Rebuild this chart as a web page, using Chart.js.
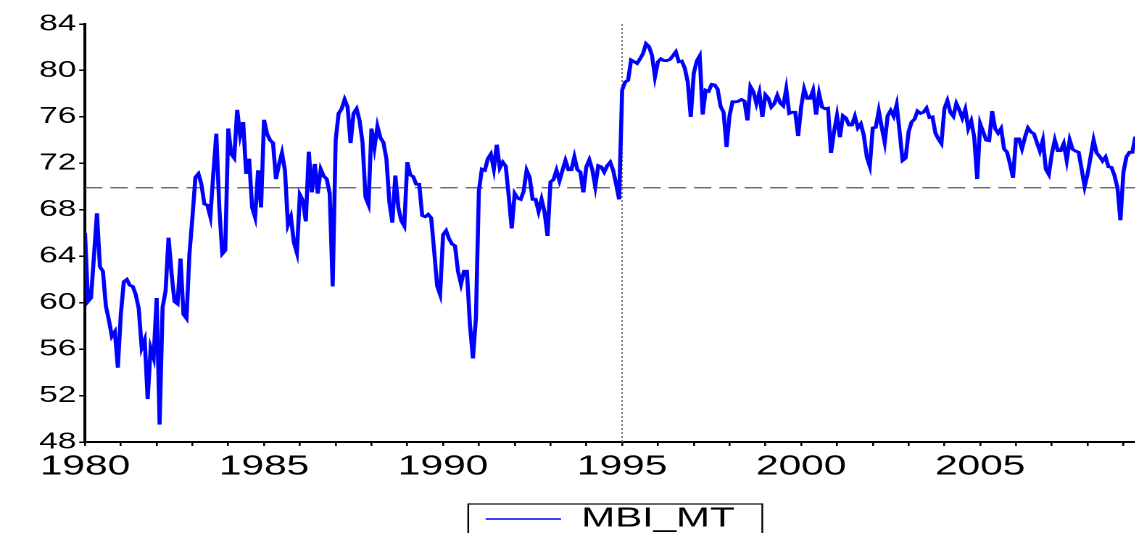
<!DOCTYPE html>
<html>
<head>
<meta charset="utf-8">
<script src="https://cdn.jsdelivr.net/npm/chart.js@4.4.1/dist/chart.umd.min.js"></script>
<style>
  html, body { margin: 0; padding: 0; background: #fff; overflow: hidden; width: 1135px; height: 533px; }
  #wrap { position: absolute; left: 0; top: 0; transform-origin: 0 0; }
</style>
</head>
<body>
<div id="wrap"><canvas id="chart"></canvas></div>
<script>
// Monthly series MBI_MT, 1980M01 onward
const startYear = 1980;
const mbiMt = [
  66.0, 60.1, 60.4, 64.0, 67.7, 63.1, 62.7, 59.7, 58.5, 57.1, 57.5, 54.4,
  59.0, 61.8, 62.0, 61.5, 61.4, 60.7, 59.5, 56.1, 56.8, 51.7, 56.1, 55.25,
  60.4, 49.5, 59.6, 61.0, 65.6, 62.5, 60.1, 59.9, 63.8, 59.0, 58.65, 64.2,
  67.35, 70.8, 71.1, 70.2, 68.5, 68.4, 67.4, 71.1, 74.55, 68.2, 64.2, 64.5,
  75.0, 72.8, 72.45, 76.6, 74.4, 75.55, 71.1, 72.4, 68.2, 67.35, 71.4, 68.2,
  75.75, 74.55, 74.0, 73.75, 70.65, 71.9, 72.9, 71.4, 66.7, 67.4, 65.2, 64.3,
  69.3, 68.8, 67.0, 73.0, 69.5, 71.95, 69.4, 71.5, 70.9, 70.65, 69.4, 61.4,
  74.0, 76.3, 76.7, 77.5, 76.85, 73.75, 76.3, 76.7, 75.7, 73.8, 69.1, 68.45,
  75.0, 73.35, 75.2, 74.2, 73.8, 72.4, 68.65, 66.9, 70.95, 68.2, 67.05, 66.6,
  72.1, 71.0, 70.85, 70.2, 70.2, 67.5, 67.4, 67.6, 67.3, 64.5, 61.45, 60.7,
  65.85, 66.2, 65.5, 65.05, 64.9, 62.7, 61.6, 62.7, 62.7, 58.1, 55.2, 58.7,
  69.65, 71.5, 71.4, 72.4, 72.8, 71.5, 73.6, 71.6, 72.1, 71.75, 69.2, 66.4,
  69.4, 69.0, 68.9, 69.6, 71.4, 70.8, 68.9, 68.9, 67.85, 68.9, 67.8, 65.75,
  70.4, 70.6, 71.4, 70.5, 71.4, 72.25, 71.45, 71.45, 72.55, 71.45, 71.25, 69.5,
  71.7, 72.3, 71.45, 70.0, 71.8, 71.7, 71.25, 71.8, 72.1, 71.4, 70.2, 68.9,
  78.3, 79.0, 79.15, 80.9, 80.75, 80.6, 81.0, 81.45, 82.3, 82.05, 81.3, 79.45,
  80.75, 81.0, 80.85, 80.85, 80.95, 81.25, 81.6, 80.75, 80.8, 80.2, 79.0, 76.0,
  79.75, 80.8, 81.25, 76.2, 78.3, 78.2, 78.8, 78.75, 78.4, 76.9, 76.4, 73.4,
  76.1, 77.3, 77.3, 77.35, 77.5, 77.35, 75.7, 78.6, 78.15, 77.15, 78.1, 76.0,
  77.9, 77.6, 76.85, 77.15, 77.85, 77.2, 76.95, 78.4, 76.3, 76.4, 76.4, 74.35,
  76.85, 78.4, 77.6, 77.6, 78.3, 76.2, 78.0, 76.85, 76.7, 76.75, 72.9, 74.7,
  76.1, 74.25, 76.1, 75.9, 75.3, 75.3, 76.05, 75.05, 75.4, 74.4, 72.55, 71.75,
  75.05, 75.1, 76.5, 75.1, 73.8, 76.1, 76.55, 76.05, 77.05, 74.7, 72.25, 72.45,
  74.7, 75.55, 75.8, 76.5, 76.3, 76.4, 76.75, 75.95, 76.0, 74.6, 74.1, 73.7,
  76.7, 77.4, 76.4, 76.05, 77.15, 76.6, 75.9, 76.65, 75.0, 75.65, 74.25, 70.65,
  75.4, 74.7, 74.0, 73.95, 76.5, 75.0, 74.6, 75.0, 73.25, 72.95, 71.95, 70.75,
  74.1, 74.1, 73.25, 74.25, 75.05, 74.7, 74.55, 73.8, 73.05, 74.0, 71.5, 71.05,
  72.8, 74.0, 73.1, 73.1, 73.7, 72.25, 74.0, 73.2, 73.05, 72.95, 71.5, 70.0,
  71.1, 72.55, 74.0, 72.9, 72.6, 72.2, 72.55, 71.7, 71.65, 70.95, 69.9, 67.1,
  71.25, 72.55, 72.95, 72.95, 74.3
];

// Axis ticks
const yTicks = [48, 52, 56, 60, 64, 68, 72, 76, 80, 84];
const yearTicks = [];
for (let y = 1980; y <= 2009; y++) yearTicks.push(y);
const labelledYears = [1980, 1985, 1990, 1995, 2000, 2005];

// Reference lines
const meanLevel = 69.9;
const markerYear = 1995;

// Horizontal stretch of the whole graphic
const STRETCH = 1.45;
const PAGE_W = 1135;
const W = Math.round(PAGE_W / STRETCH);
const H = 543;

const wrap = document.getElementById('wrap');
wrap.style.transform = 'scaleX(' + STRETCH + ')';
wrap.style.width = W + 'px';
wrap.style.height = H + 'px';
const canvas = document.getElementById('chart');
canvas.width = W;
canvas.height = H;
canvas.style.width = W + 'px';
canvas.style.height = H + 'px';

const points = mbiMt.map((v, i) => ({ x: startYear + i / 12, y: v }));

const FONT = 'Liberation Sans, Arial, sans-serif';

const refLines = {
  id: 'refLines',
  beforeDatasetsDraw(chart) {
    const { ctx, chartArea: a, scales: { x, y } } = chart;
    ctx.save();
    // dashed horizontal level
    const py = y.getPixelForValue(meanLevel);
    ctx.strokeStyle = '#555';
    ctx.lineWidth = 1.3;
    ctx.setLineDash([12, 5.5]);
    ctx.beginPath();
    ctx.moveTo(a.left, py);
    ctx.lineTo(a.right, py);
    ctx.stroke();
    // dotted vertical marker
    const px = x.getPixelForValue(markerYear);
    ctx.strokeStyle = '#777';
    ctx.lineWidth = 1;
    ctx.setLineDash([2, 2]);
    ctx.beginPath();
    ctx.moveTo(px, a.top);
    ctx.lineTo(px, a.bottom);
    ctx.stroke();
    ctx.restore();
  }
};

const legendFrame = {
  id: 'legendFrame',
  afterDraw(chart) {
    const lg = chart.legend;
    if (!lg || !lg.legendHitBoxes || !lg.legendHitBoxes.length) return;
    const hb = lg.legendHitBoxes[0];
    const { ctx } = chart;
    ctx.save();
    ctx.strokeStyle = '#000';
    ctx.lineWidth = 1.2;
    ctx.strokeRect(hb.left - 12, hb.top - 1, hb.width + 31, hb.height + 40);
    ctx.restore();
  }
};

new Chart(canvas, {
  type: 'line',
  data: {
    datasets: [{
      label: 'MBI_MT',
      data: points,
      borderColor: '#0000ff',
      backgroundColor: '#0000ff',
      borderWidth: 2.8,
      pointRadius: 0,
      tension: 0,
      fill: false
    }]
  },
  options: {
    responsive: false,
    animation: false,
    devicePixelRatio: 2,
    layout: { padding: { left: 0, right: 0, top: 24, bottom: 0 } },
    scales: {
      x: {
        type: 'linear',
        min: startYear,
        max: startYear + (mbiMt.length - 1) / 12,
        afterBuildTicks(scale) { scale.ticks = yearTicks.map(v => ({ value: v })); },
        afterFit(scale) { scale.height = 53; },
        ticks: {
          autoSkip: false,
          maxRotation: 0,
          padding: 4,
          color: '#000',
          font: { family: FONT, size: 28 },
          callback: v => labelledYears.includes(v) ? String(v) : ''
        },
        grid: { drawOnChartArea: false, drawTicks: true, tickLength: 4, color: '#000', lineWidth: 1.3 },
        border: { display: true, color: '#000', width: 2 }
      },
      y: {
        min: 48,
        max: 84,
        afterBuildTicks(scale) { scale.ticks = yTicks.map(v => ({ value: v })); },
        afterFit(scale) { scale.width = 85 / STRETCH; },
        ticks: {
          padding: 2,
          color: '#000',
          font: { family: FONT, size: 23 }
        },
        grid: { drawOnChartArea: false, drawTicks: true, tickLength: 4, color: '#000', lineWidth: 1.5 },
        border: { display: true, color: '#000', width: 2 }
      }
    },
    plugins: {
      legend: {
        display: true,
        position: 'bottom',
        fullSize: false,
        labels: {
          usePointStyle: true,
          pointStyle: 'line',
          pointStyleWidth: 52,
          color: '#000',
          font: { family: FONT, size: 28 },
          padding: 10,
          generateLabels(chart) {
            const items = Chart.defaults.plugins.legend.labels.generateLabels(chart);
            items.forEach(it => { it.lineWidth = 1.5; });
            return items;
          }
        }
      },
      tooltip: { enabled: false }
    }
  },
  plugins: [refLines, legendFrame]
});
</script>
</body>
</html>
